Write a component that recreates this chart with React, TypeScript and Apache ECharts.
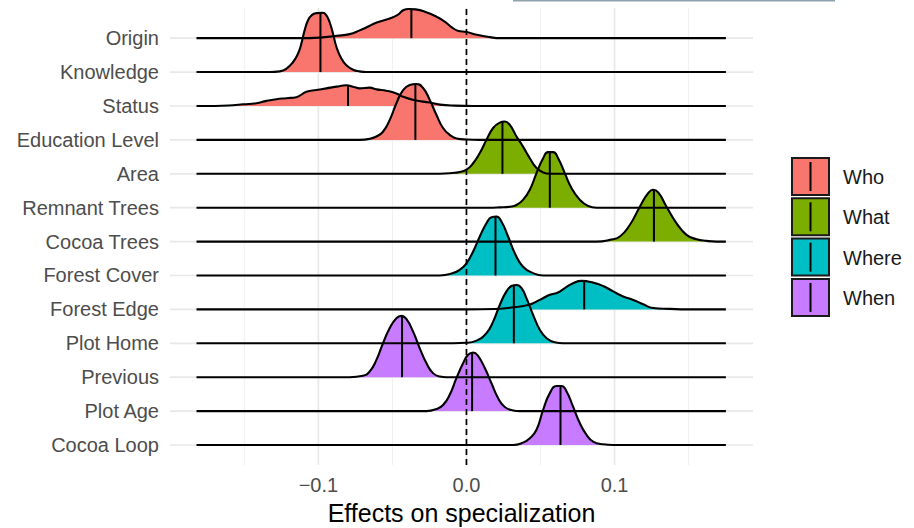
import React, { useEffect, useRef } from 'react';
import * as echarts from 'echarts';

// ---- categories / groups ----
const ROWS = ['Origin', 'Knowledge', 'Status', 'Education Level', 'Area', 'Remnant Trees', 'Cocoa Trees',
  'Forest Cover', 'Forest Edge', 'Plot Home', 'Previous', 'Plot Age', 'Cocoa Loop'];
const GROUP_OF_ROW = ['Who', 'Who', 'Who', 'Who', 'What', 'What', 'What', 'Where', 'Where', 'Where', 'When', 'When', 'When'];
const GROUPS = ['Who', 'What', 'Where', 'When'];
const GROUP_COLORS = ['#F8766D', '#7CAE00', '#00BFC4', '#C77CFF'];

// ---- axis ticks / ranges ----
const X_TICKS = [-0.1, 0, 0.1];
const X_GRID_MAJOR = [-0.1, 0, 0.1];
const X_GRID_MINOR = [-0.15, -0.05, 0.05, 0.15];
const X_RANGE = [-0.2002, 0.1935];
const Y_RANGE = [-0.59, 12.89];
const LINE_RANGE = [-0.1823, 0.1752];

// ---- density curves (x = effect, h = height in row units) ----
const ORIGIN_X = [-0.1126, -0.0991, -0.0876, -0.0789, -0.0721, -0.0674, -0.0606, -0.0518, -0.0464, -0.0424, -0.0390, -0.0343, -0.0267, -0.0201, -0.0147, -0.0099, -0.0059, 0.0002, 0.0070, 0.0158, 0.0225];
const ORIGIN_H = [0, 0.015, 0.07, 0.12, 0.23, 0.32, 0.46, 0.58, 0.69, 0.83, 0.86, 0.85, 0.76, 0.63, 0.49, 0.32, 0.22, 0.18, 0.10, 0.03, 0];

const KNOWLEDGE_X = [-0.1330, -0.1261, -0.1216, -0.1172, -0.1138, -0.1115, -0.1093, -0.1070, -0.1047, -0.1014, -0.0969, -0.0946, -0.0924, -0.0901, -0.0878, -0.0845, -0.0811, -0.0766, -0.0721, -0.0676];
const KNOWLEDGE_H = [0, 0.02, 0.10, 0.29, 0.54, 0.84, 1.23, 1.53, 1.67, 1.74, 1.75, 1.67, 1.47, 1.13, 0.74, 0.40, 0.20, 0.07, 0.02, 0];

const STATUS_X = [-0.1700, -0.1577, -0.1509, -0.1419, -0.1351, -0.1284, -0.1216, -0.1149, -0.1081, -0.1014, -0.0946, -0.0878, -0.0811, -0.0766, -0.0721, -0.0653, -0.0608, -0.0541, -0.0473, -0.0428, -0.0349, -0.0248, -0.0180, -0.0079, 0.0050];
const STATUS_H = [0, 0.02, 0.05, 0.08, 0.15, 0.20, 0.23, 0.26, 0.42, 0.47, 0.52, 0.57, 0.61, 0.57, 0.52, 0.54, 0.49, 0.45, 0.37, 0.27, 0.17, 0.10, 0.04, 0.01, 0];

const EDUCATION_X = [-0.0721, -0.0653, -0.0608, -0.0564, -0.0518, -0.0473, -0.0428, -0.0383, -0.0338, -0.0293, -0.0248, -0.0203, -0.0158, -0.0113, -0.0066, 0.0002, 0.0090];
const EDUCATION_H = [0, 0.03, 0.10, 0.24, 0.59, 1.08, 1.47, 1.62, 1.65, 1.53, 1.18, 0.74, 0.35, 0.15, 0.04, 0.01, 0];

const AREA_X = [-0.0180, -0.0079, -0.0045, 0.0, 0.0045, 0.0090, 0.0135, 0.0180, 0.0225, 0.0259, 0.0293, 0.0338, 0.0382, 0.0428, 0.0473, 0.0518, 0.0563];
const AREA_H = [0, 0.03, 0.05, 0.12, 0.31, 0.61, 1.0, 1.35, 1.51, 1.54, 1.44, 1.10, 0.80, 0.46, 0.17, 0.04, 0];

const REMNANT_X = [0.0150, 0.0225, 0.0293, 0.0338, 0.0382, 0.0428, 0.0473, 0.0518, 0.0551, 0.0585, 0.0619, 0.0664, 0.0709, 0.0766, 0.0822, 0.0878];
const REMNANT_H = [0, 0.01, 0.03, 0.08, 0.23, 0.53, 1.02, 1.46, 1.64, 1.64, 1.46, 1.02, 0.58, 0.23, 0.05, 0];

const COCOA_TREES_X = [0.0878, 0.0968, 0.1036, 0.1103, 0.1171, 0.1227, 0.1261, 0.1295, 0.1351, 0.1419, 0.1486, 0.1554, 0.1622, 0.1689];
const COCOA_TREES_H = [0, 0.05, 0.15, 0.49, 1.03, 1.43, 1.53, 1.45, 1.03, 0.54, 0.20, 0.07, 0.02, 0];

const FOREST_COVER_X = [-0.0180, -0.0091, -0.0045, 0.0, 0.0045, 0.0090, 0.0135, 0.0169, 0.0203, 0.0236, 0.0281, 0.0326, 0.0382, 0.0450, 0.0518];
const FOREST_COVER_H = [0, 0.07, 0.17, 0.36, 0.71, 1.15, 1.54, 1.72, 1.74, 1.59, 1.15, 0.66, 0.26, 0.07, 0];

const FOREST_EDGE_X = [0.0, 0.0191, 0.0293, 0.0416, 0.0495, 0.0563, 0.0619, 0.0664, 0.0720, 0.0777, 0.0855, 0.0923, 0.0991, 0.1058, 0.1126, 0.1193, 0.1261, 0.1374, 0.1486];
const FOREST_EDGE_H = [0, 0.01, 0.05, 0.13, 0.28, 0.43, 0.50, 0.63, 0.77, 0.84, 0.79, 0.69, 0.53, 0.38, 0.28, 0.15, 0.04, 0.015, 0];

const PLOT_HOME_X = [-0.0180, 0.0, 0.0068, 0.0135, 0.0180, 0.0225, 0.0270, 0.0304, 0.0338, 0.0372, 0.0405, 0.0450, 0.0495, 0.0541, 0.0597, 0.0653];
const PLOT_HOME_H = [0, 0.015, 0.08, 0.30, 0.64, 1.13, 1.53, 1.69, 1.72, 1.63, 1.33, 0.84, 0.40, 0.15, 0.03, 0];

const PREVIOUS_X = [-0.0789, -0.0699, -0.0653, -0.0608, -0.0564, -0.0518, -0.0473, -0.0439, -0.0405, -0.0361, -0.0316, -0.0270, -0.0226, -0.0180, -0.0135];
const PREVIOUS_H = [0, 0.04, 0.17, 0.51, 1.0, 1.45, 1.74, 1.81, 1.71, 1.35, 0.86, 0.41, 0.12, 0.02, 0];

const PLOT_AGE_X = [-0.0270, -0.0203, -0.0158, -0.0113, -0.0068, -0.0023, 0.0011, 0.0045, 0.0078, 0.0124, 0.0169, 0.0214, 0.0259, 0.0315, 0.0360];
const PLOT_AGE_H = [0, 0.06, 0.18, 0.48, 0.97, 1.41, 1.66, 1.73, 1.63, 1.27, 0.82, 0.38, 0.12, 0.02, 0];

const COCOA_LOOP_X = [0.0315, 0.0382, 0.0428, 0.0473, 0.0518, 0.0563, 0.0608, 0.0642, 0.0676, 0.0720, 0.0766, 0.0811, 0.0855, 0.0923, 0.0990];
const COCOA_LOOP_H = [0, 0.07, 0.20, 0.45, 1.04, 1.53, 1.74, 1.74, 1.58, 1.13, 0.64, 0.30, 0.10, 0.02, 0];

// ---- medians and curve height at the median ----
const MEDIANS = [-0.0372, -0.0986, -0.0800, -0.0345, 0.0243, 0.0563, 0.1266, 0.0196, 0.0795, 0.0320, -0.0435, 0.0038, 0.0635];
const MEDIAN_H = [0.86, 1.74, 0.60, 1.65, 1.53, 1.64, 1.52, 1.74, 0.83, 1.71, 1.80, 1.71, 1.74];

const RIDGE_X = [ORIGIN_X, KNOWLEDGE_X, STATUS_X, EDUCATION_X, AREA_X, REMNANT_X, COCOA_TREES_X,
  FOREST_COVER_X, FOREST_EDGE_X, PLOT_HOME_X, PREVIOUS_X, PLOT_AGE_X, COCOA_LOOP_X];
const RIDGE_H = [ORIGIN_H, KNOWLEDGE_H, STATUS_H, EDUCATION_H, AREA_H, REMNANT_H, COCOA_TREES_H,
  FOREST_COVER_H, FOREST_EDGE_H, PLOT_HOME_H, PREVIOUS_H, PLOT_AGE_H, COCOA_LOOP_H];

const FONT = "'Liberation Sans', Arial, Helvetica, sans-serif";

function segment(a: number[], b: number[], color: string, width: number): any {
  return {
    type: 'line',
    data: [a, b],
    symbol: 'none',
    silent: true,
    lineStyle: { color, width },
    z: 1,
  };
}

export default function App() {
  const ref = useRef<HTMLDivElement>(null);

  useEffect(() => {
    document.body.style.margin = '0';
    if (!ref.current) return;
    const chart = echarts.init(ref.current, undefined, { renderer: 'svg', width: 914, height: 528 });
    const n = ROWS.length;

    const series: any[] = [];
    // background grid lines (drawn first, underneath)
    X_GRID_MINOR.forEach((x) => series.push(segment([x, Y_RANGE[0]], [x, Y_RANGE[1]], '#eeeeee', 0.9)));
    X_GRID_MAJOR.forEach((x) => series.push(segment([x, Y_RANGE[0]], [x, Y_RANGE[1]], '#e8e8e8', 1.7)));
    for (let k = 0; k < n; k++) series.push(segment([X_RANGE[0], k], [X_RANGE[1], k], '#e8e8e8', 1.7));

    ROWS.forEach((name, i) => {
      const base = n - 1 - i;
      const color = GROUP_COLORS[GROUPS.indexOf(GROUP_OF_ROW[i])];
      const xs = RIDGE_X[i];
      const hs = RIDGE_H[i];
      const pts: number[][] = [[LINE_RANGE[0], base]];
      xs.forEach((x, j) => pts.push([x, base + hs[j]]));
      pts.push([LINE_RANGE[1], base]);
      series.push({
        type: 'line',
        name,
        data: pts,
        smooth: 0.5,
        symbol: 'none',
        silent: true,
        lineStyle: { color: '#000', width: 2.1, join: 'round' },
        areaStyle: { color, opacity: 1, origin: base },
        z: 2,
      });
      series.push({
        type: 'line',
        data: [[MEDIANS[i], base], [MEDIANS[i], base + MEDIAN_H[i]]],
        symbol: 'none',
        silent: true,
        lineStyle: { color: '#000', width: 2 },
        z: 2,
      });
    });

    series.push({
      type: 'line',
      data: [[0, Y_RANGE[0]], [0, Y_RANGE[1]]],
      symbol: 'none',
      silent: true,
      lineStyle: { color: '#000', width: 1.7, type: [6, 4] },
      z: 5,
    });

    const legendGraphics: any[] = [];
    GROUPS.forEach((g, j) => {
      const y = 158 + j * 40.3;
      legendGraphics.push({
        type: 'rect', shape: { x: 792, y, width: 37, height: 37 },
        style: { fill: GROUP_COLORS[j], stroke: '#1a1a1a', lineWidth: 2 }, z: 10,
      });
      legendGraphics.push({
        type: 'line', shape: { x1: 810.5, y1: y + 4, x2: 810.5, y2: y + 33 },
        style: { stroke: '#000', lineWidth: 2 }, z: 11,
      });
      legendGraphics.push({
        type: 'text', x: 843, y: y + 19,
        style: { text: g, fontSize: 20, fontFamily: FONT, fill: '#1a1a1a', textVerticalAlign: 'middle', textAlign: 'left' },
        z: 11,
      });
    });
    legendGraphics.push({
      type: 'rect', shape: { x: 513, y: 0, width: 322, height: 1.5 },
      style: { fill: '#8fa1ad' }, z: 11,
    });

    chart.setOption({
      animation: false,
      backgroundColor: '#ffffff',
      grid: { left: 170, right: 161, top: 8, bottom: 63, containLabel: false, outerBoundsMode: 'none' },
      xAxis: {
        type: 'value',
        min: X_RANGE[0],
        max: X_RANGE[1],
        axisLine: { show: false },
        axisTick: { show: false },
        splitLine: { show: false },
        axisLabel: {
          customValues: X_TICKS,
          margin: 10,
          fontSize: 20,
          fontFamily: FONT,
          color: '#4d4d4d',
          formatter: (v: number) => (v < -1e-9 ? '\u2212' : '') + Math.abs(v).toFixed(1),
        },
        name: 'Effects on specialization',
        nameLocation: 'middle',
        nameGap: 35,
        nameTextStyle: { fontSize: 25, fontFamily: FONT, color: '#000' },
      },
      yAxis: {
        type: 'value',
        min: Y_RANGE[0],
        max: Y_RANGE[1],
        axisLine: { show: false },
        axisTick: { show: false },
        splitLine: { show: false },
        axisLabel: {
          customValues: ROWS.map((_, i) => n - 1 - i),
          margin: 11,
          fontSize: 20,
          fontFamily: FONT,
          color: '#4d4d4d',
          formatter: (v: number) => ROWS[n - 1 - Math.round(v)] ?? '',
        },
      },
      graphic: legendGraphics,
      series,
    });

    return () => chart.dispose();
  }, []);

  return (
    <div
      ref={ref}
      style={{ position: 'fixed', left: 0, top: 0, width: 914, height: 528, overflow: 'hidden', background: '#fff' }}
    />
  );
}
